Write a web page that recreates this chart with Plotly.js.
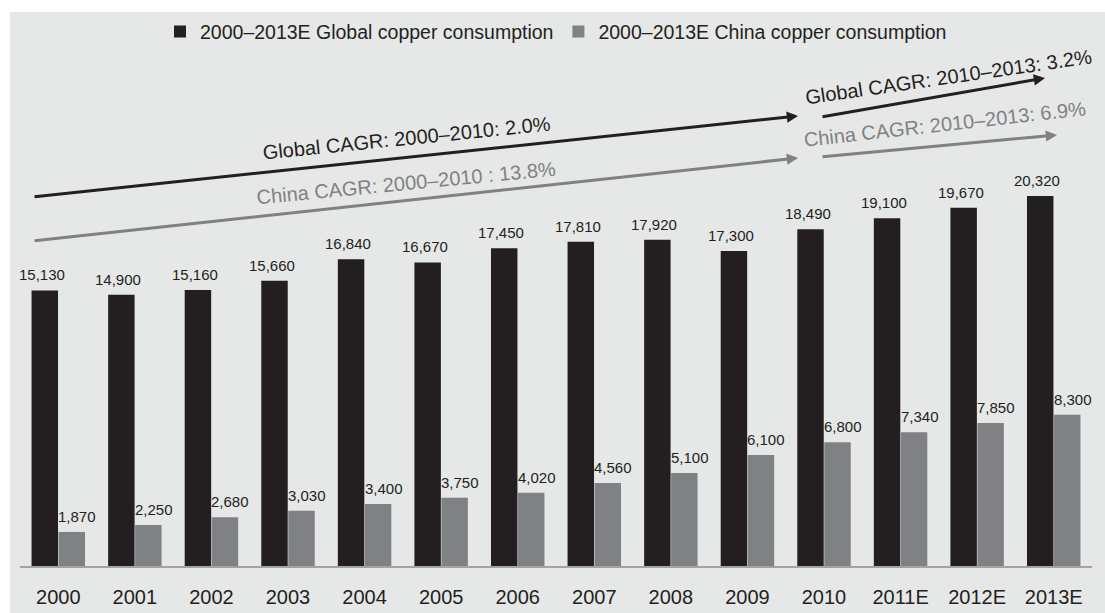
<!DOCTYPE html>
<html>
<head>
<meta charset="utf-8">
<script src="https://cdn.plot.ly/plotly-3.0.1.min.js"></script>
<style>html,body{margin:0;padding:0;background:#fff;}#chart{width:1105px;height:613px;}</style>
</head>
<body>
<div id="chart"></div>
<script>
// ---- data ----
const years = ["2000","2001","2002","2003","2004","2005","2006","2007","2008","2009","2010","2011E","2012E","2013E"];
const globalConsumption = [15130,14900,15160,15660,16840,16670,17450,17810,17920,17300,18490,19100,19670,20320];
const chinaConsumption  = [1870,2250,2680,3030,3400,3750,4020,4560,5100,6100,6800,7340,7850,8300];
const seriesNames = ["2000\u20132013E Global copper consumption","2000\u20132013E China copper consumption"];
const cagrLabels = ["Global CAGR: 2000\u20132010: 2.0%","China CAGR: 2000\u20132010 : 13.8%","Global CAGR: 2010\u20132013: 3.2%","China CAGR: 2010\u20132013: 6.9%"];

const BLACK = "#231f20", GREY = "#808184", BG = "#e6e7e7";
const FONT = "Liberation Sans, Arial, Helvetica, sans-serif";

const traces = [
  {type:"bar", name:seriesNames[0], x:years, y:globalConsumption,
   marker:{color:BLACK, line:{width:0}}, hoverinfo:"skip"},
  {type:"bar", name:seriesNames[1], x:years, y:chinaConsumption,
   marker:{color:GREY, line:{width:0}}, hoverinfo:"skip"}
];

const fmt = v => v.toLocaleString("en-US");
// category index i is used as the annotation position on the category axis
function valueLabel(i, v, xshift){
  return {x:i, y:v, xref:"x", yref:"y", text:fmt(v), showarrow:false,
    xanchor:"center", yanchor:"bottom", xshift:xshift, yshift:5,
    font:{size:15, color:BLACK, family:FONT}};
}
function arrow(x, y, ax, ay, color){
  return {x:x, y:y, ax:ax, ay:ay, xref:"x", yref:"y", axref:"x", ayref:"y",
    text:"", showarrow:true, arrowhead:2, arrowsize:0.75, arrowwidth:3, arrowcolor:color, standoff:0, startstandoff:0};
}
function label(x, y, txt, angle, color){
  return {x:x, y:y, xref:"x", yref:"y", text:txt, showarrow:false, textangle:angle,
    xanchor:"center", yanchor:"middle", font:{size:20, color:color, family:FONT}};
}

const annotations = [];
years.forEach((c, i) => {
  annotations.push(valueLabel(i, globalConsumption[i], -16.5));
  annotations.push(valueLabel(i, chinaConsumption[i], 19));
});
annotations.push(
  arrow(9.661, 24712, -0.330, 20264, BLACK),
  arrow(9.661, 22405, -0.330, 17847, GREY),
  arrow(12.886, 26798, 9.961, 24657, BLACK),
  arrow(13.043, 23668, 9.961, 22460, GREY),
  label(4.554, 23504, cagrLabels[0], -5.8, BLACK),
  label(4.541, 21033, cagrLabels[1], -5.5, GREY),
  label(11.62, 26853, cagrLabels[2], -8.2, BLACK),
  label(11.58, 24272, cagrLabels[3], -6.4, GREY)
);

const layout = {
  width:1105, height:613,
  margin:{l:20, r:13, t:12, b:47},
  paper_bgcolor:"#ffffff", plot_bgcolor:BG,
  font:{family:FONT, color:BLACK},
  barmode:"group", bargap:0.295, bargroupgap:0.02,
  showlegend:true,
  legend:{orientation:"h", x:0.5, xanchor:"center", y:0.964, yanchor:"middle",
    font:{size:19.5, color:BLACK}, bgcolor:"rgba(0,0,0,0)", itemwidth:30, tracegroupgap:0},
  xaxis:{type:"category", range:[-0.5, 13.5], autorange:false, showline:true, linecolor:"#a3a3a3", linewidth:1.5, ticks:"",
    tickfont:{size:20, color:BLACK}, ticklabelstandoff:12, showgrid:false, zeroline:false, fixedrange:true},
  yaxis:{range:[0,30420], autorange:false, visible:false, showgrid:false, zeroline:false, fixedrange:true},
  shapes:[{type:"rect", xref:"paper", yref:"paper", x0:-10/1072, x1:1085/1072, y0:-47/554, y1:1,
    fillcolor:BG, line:{width:0}, layer:"below"}],
  annotations:annotations
};

Plotly.newPlot("chart", traces, layout, {displayModeBar:false, staticPlot:true});
</script>
</body>
</html>
